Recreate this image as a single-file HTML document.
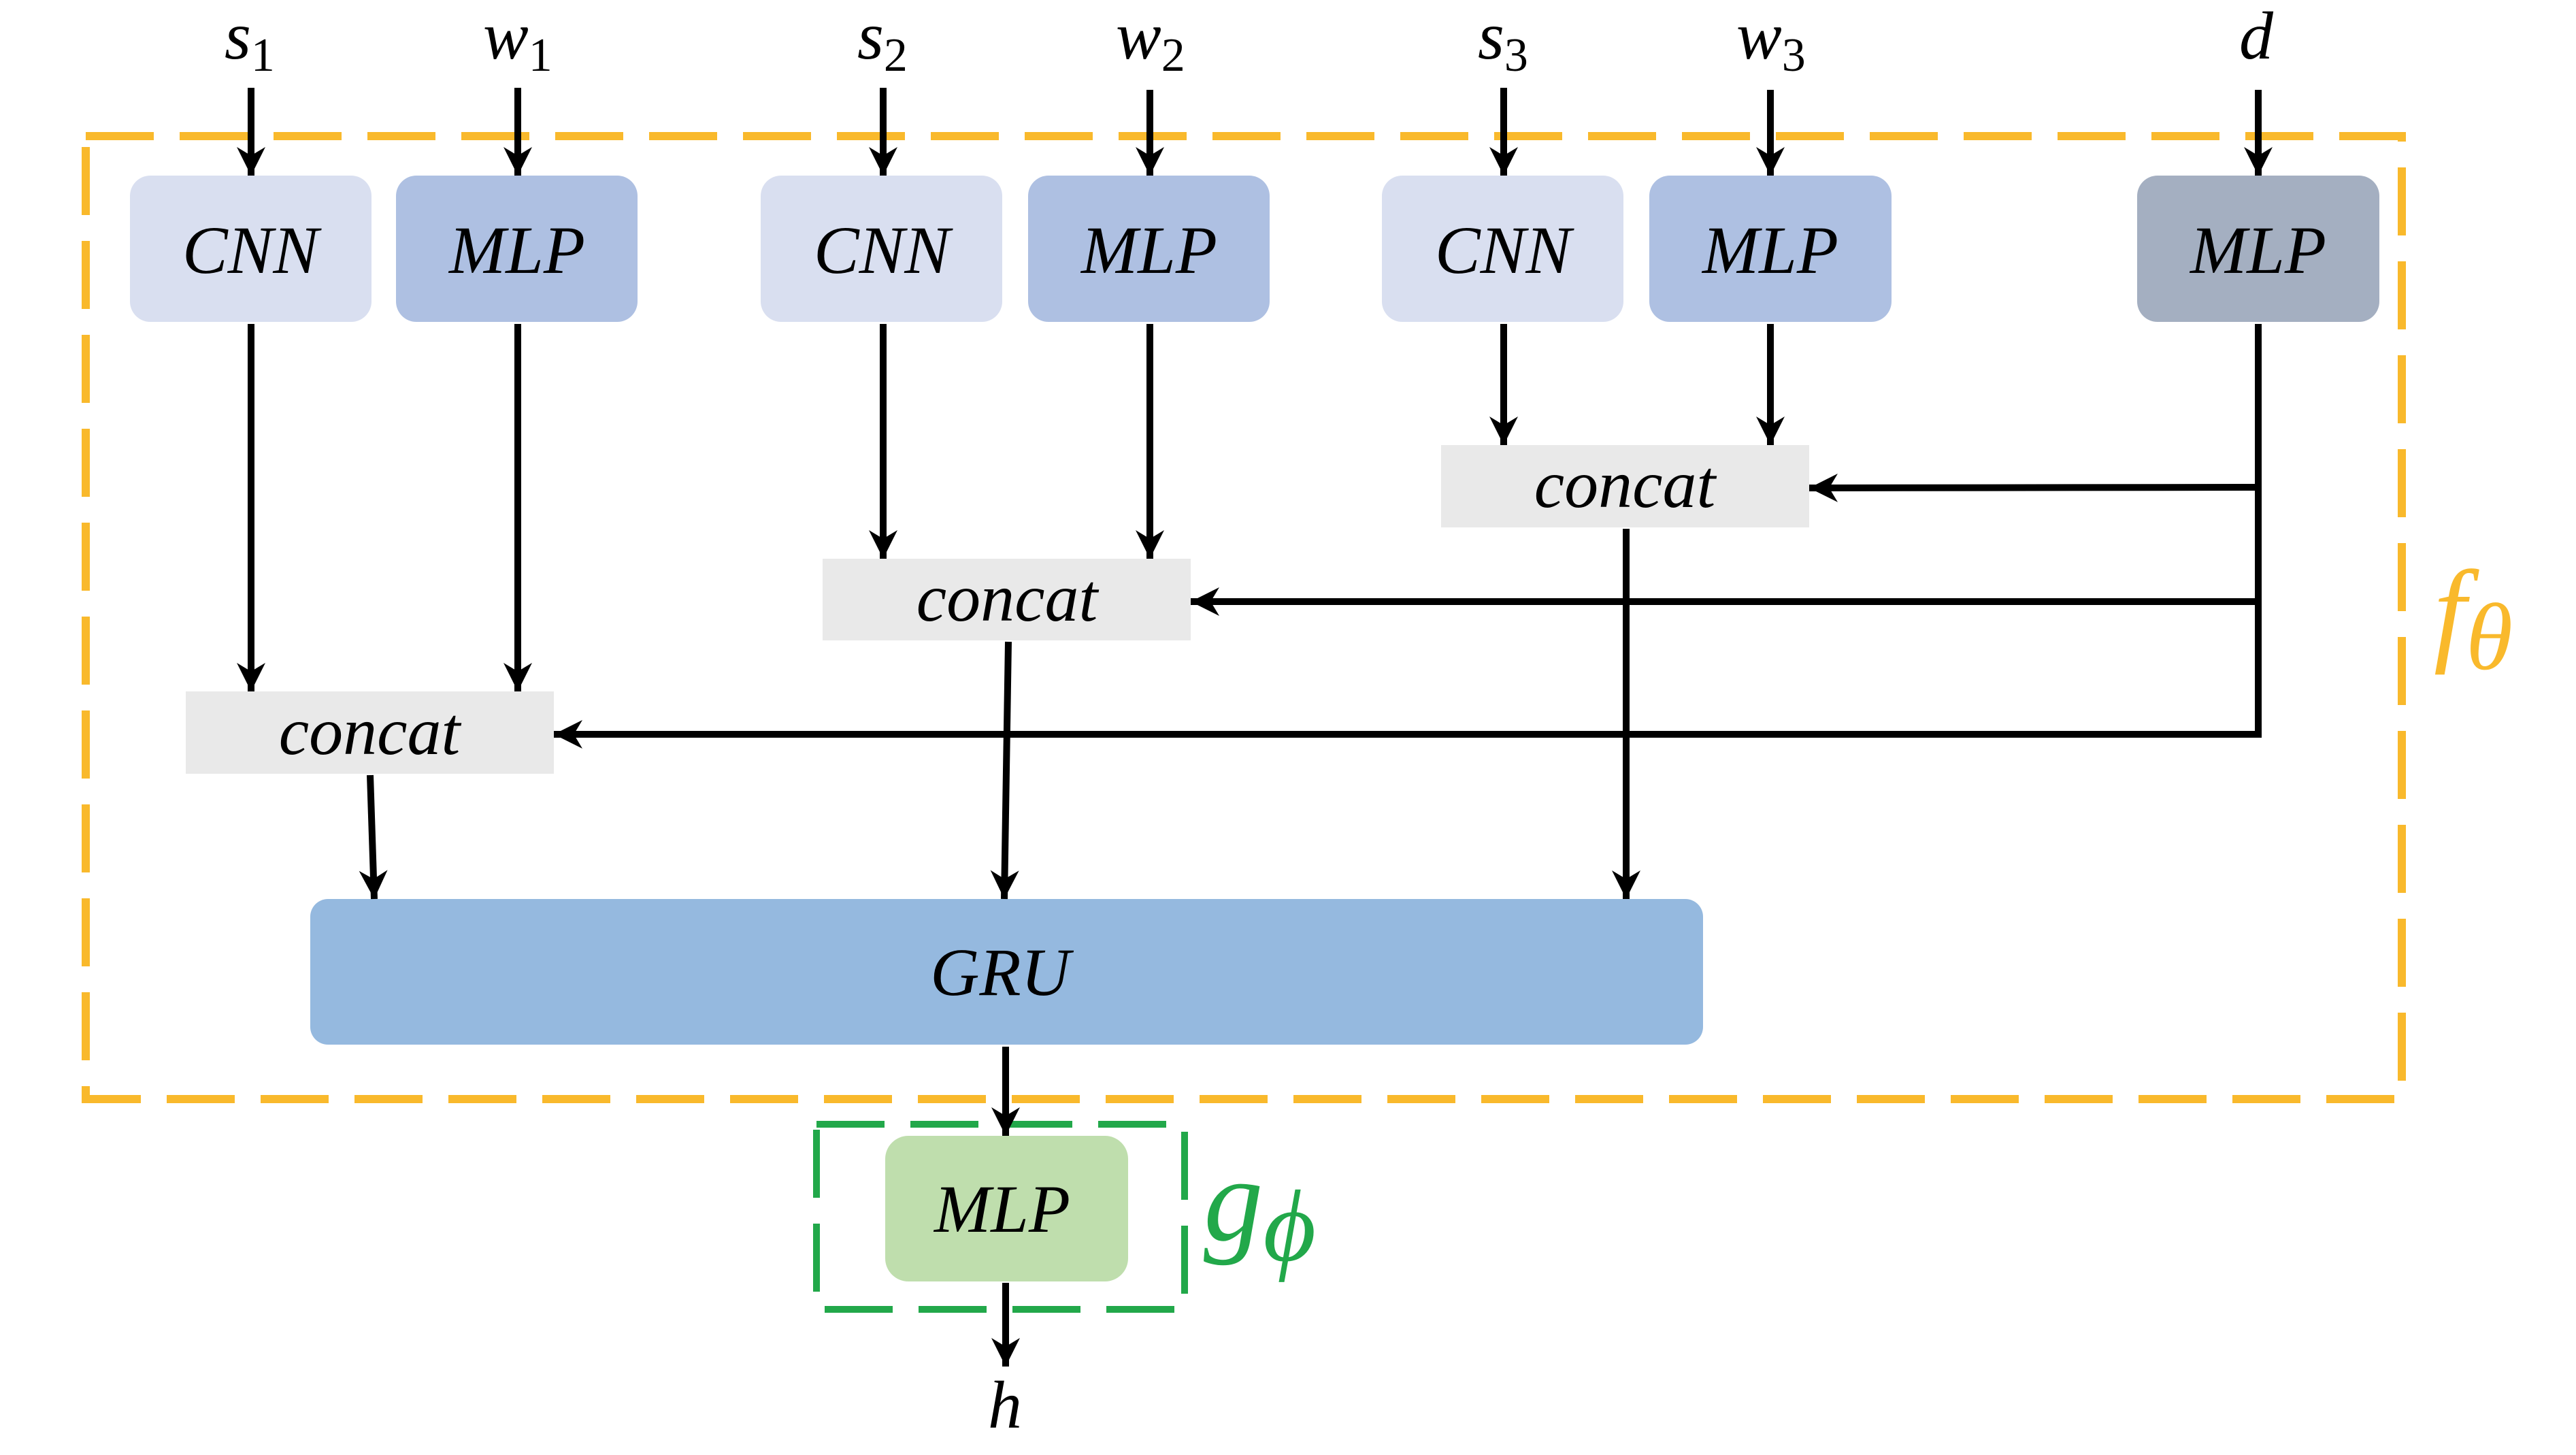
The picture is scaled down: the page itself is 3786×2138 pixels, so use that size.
<!DOCTYPE html>
<html><head><meta charset="utf-8"><style>
html,body{margin:0;padding:0;background:#fff;}
svg{display:block;}
text{font-family:"Liberation Serif",serif;font-style:italic;}
</style></head><body>
<svg width="3786" height="2138" viewBox="0 0 3786 2138" xmlns="http://www.w3.org/2000/svg">
<defs>
<marker id="ah" viewBox="0 0 10 10" refX="10" refY="5" markerWidth="4.2" markerHeight="4.2" markerUnits="strokeWidth" orient="auto">
<path d="M0,0 L10,5 L0,10 L3,5 z" fill="#000"/>
</marker>
</defs>
<rect x="126" y="200" width="3404" height="1415" fill="none" stroke="#F9B92C" stroke-width="12" stroke-dasharray="100 38"/>
<rect x="1200" y="1652" width="541" height="272" fill="none" stroke="#22A84A" stroke-width="10" stroke-dasharray="100 38"/>

<g>
<rect x="191" y="258" width="355" height="215" rx="30" fill="#D9DFF0"/>
<rect x="582" y="258" width="355" height="215" rx="30" fill="#AEC0E2"/>
<rect x="1118" y="258" width="355" height="215" rx="30" fill="#D9DFF0"/>
<rect x="1511" y="258" width="355" height="215" rx="30" fill="#AEC0E2"/>
<rect x="2031" y="258" width="355" height="215" rx="30" fill="#D9DFF0"/>
<rect x="2424" y="258" width="356" height="215" rx="30" fill="#AEC0E2"/>
<rect x="3141" y="258" width="356" height="215" rx="30" fill="#A4AFC1"/>
<rect x="273" y="1016" width="541" height="121" fill="#E9E9E9"/>
<rect x="1209" y="821" width="541" height="120" fill="#E9E9E9"/>
<rect x="2118" y="654" width="541" height="121" fill="#E9E9E9"/>
<rect x="456" y="1321" width="2047" height="214" rx="26" fill="#95B9DF"/>
<rect x="1301" y="1669" width="357" height="214" rx="34" fill="#BFDEAD"/>
</g>

<g font-size="100" text-anchor="middle" fill="#000">
<text x="368" y="401">CNN</text>
<text x="760" y="401">MLP</text>
<text x="1296" y="401">CNN</text>
<text x="1689" y="401">MLP</text>
<text x="2209" y="401">CNN</text>
<text x="2602" y="401">MLP</text>
<text x="3319" y="401">MLP</text>
<text x="543" y="1108">concat</text>
<text x="1480" y="912">concat</text>
<text x="2388" y="745">concat</text>
<text x="1470" y="1462">GRU</text>
<text x="1473" y="1810">MLP</text>
</g>

<g font-size="100" fill="#000">
<text x="330" y="86">s<tspan font-size="70" font-style="normal" dy="18">1</tspan></text>
<text x="710" y="86">w<tspan font-size="70" font-style="normal" dy="18">1</tspan></text>
<text x="1260" y="86">s<tspan font-size="70" font-style="normal" dy="18">2</tspan></text>
<text x="1640" y="86">w<tspan font-size="70" font-style="normal" dy="18">2</tspan></text>
<text x="2172" y="86">s<tspan font-size="70" font-style="normal" dy="18">3</tspan></text>
<text x="2552" y="86">w<tspan font-size="70" font-style="normal" dy="18">3</tspan></text>
<text x="3291" y="86">d</text>
<text x="1452" y="2098">h</text>
</g>
<text x="3577" y="955" font-size="170" fill="#F9B92C">f<tspan font-size="140" dy="28">θ</tspan></text>
<text x="1769" y="1822" font-size="175" fill="#22A84A">g<tspan font-size="150" dy="30">ϕ</tspan></text>

<g stroke="#000" stroke-width="10" fill="none" marker-end="url(#ah)">
<line x1="369" y1="129" x2="369" y2="258"/>
<line x1="761" y1="129" x2="761" y2="258"/>
<line x1="1298" y1="129" x2="1298" y2="258"/>
<line x1="1690" y1="132" x2="1690" y2="258"/>
<line x1="2210" y1="129" x2="2210" y2="258"/>
<line x1="2602" y1="132" x2="2602" y2="258"/>
<line x1="3319" y1="132" x2="3319" y2="258"/>
<line x1="369" y1="476" x2="369" y2="1016"/>
<line x1="761" y1="476" x2="761" y2="1016"/>
<line x1="1298" y1="476" x2="1298" y2="821"/>
<line x1="1690" y1="476" x2="1690" y2="821"/>
<line x1="2210" y1="476" x2="2210" y2="654"/>
<line x1="2602" y1="476" x2="2602" y2="654"/>
<line x1="3319" y1="716" x2="2659" y2="717"/>
<line x1="3319" y1="884" x2="1750" y2="884"/>
<line x1="3319" y1="1079" x2="814" y2="1079"/>
<line x1="544" y1="1139" x2="550" y2="1321"/>
<line x1="1482" y1="943" x2="1476" y2="1321"/>
<line x1="2390" y1="777" x2="2390" y2="1321"/>
<line x1="1478" y1="1538" x2="1478" y2="1669"/>
<line x1="1478" y1="1885" x2="1478" y2="2008"/>
</g>
<polyline points="3319,476 3319,1079 3300,1079" stroke="#000" stroke-width="10" fill="none" stroke-linejoin="miter"/>
</svg>
</body></html>
